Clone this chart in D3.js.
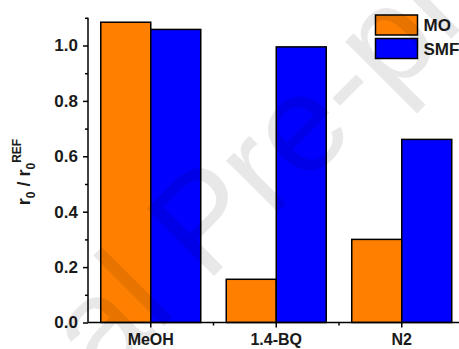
<!DOCTYPE html>
<html>
<head>
<meta charset="utf-8">
<script src="https://cdn.jsdelivr.net/npm/d3@7"></script>
<style>
  html, body { margin: 0; padding: 0; background: #fff; }
  svg { display: block; }
  text { font-family: "Liberation Sans", Arial, sans-serif; font-weight: bold; }
</style>
</head>
<body>
<svg id="chart" width="459" height="349"></svg>
<script>
// Data
const categories = ["MeOH", "1.4-BQ", "N2"];
const seriesNames = ["MO", "SMF"];
const moValues = [1.084, 0.156, 0.300];
const smfValues = [1.058, 0.995, 0.661];
const yTickValues = [0.0, 0.2, 0.4, 0.6, 0.8, 1.0];
const yMinorTickValues = [0.1, 0.3, 0.5, 0.7, 0.9, 1.1];
const seriesColors = ["#FF8000", "#0000FF"];

const rows = categories.map((c, i) => ({ cat: c, values: [moValues[i], smfValues[i]] }));

const svg = d3.select("#chart");
const plotLeft = 88, plotTop = 17.8, plotBottom = 322.5, plotRight = 464.5;

const y = d3.scaleLinear().domain([0, 1.1]).range([plotBottom, plotTop]);
const x = d3.scaleBand().domain(categories).range([plotLeft, plotRight]).paddingInner(0).paddingOuter(0);
const groupWidth = 100;
const xs = d3.scaleBand().domain(seriesNames)
  .range([x.bandwidth() / 2 - groupWidth / 2, x.bandwidth() / 2 + groupWidth / 2]);
const color = d3.scaleOrdinal().domain(seriesNames).range(seriesColors);

// Bars
const groups = svg.append("g").selectAll("g").data(rows).join("g")
  .attr("transform", d => `translate(${x(d.cat)},0)`);
groups.selectAll("rect")
  .data(d => seriesNames.map((s, k) => ({ s, v: d.values[k] })))
  .join("rect")
  .attr("x", d => xs(d.s))
  .attr("width", xs.bandwidth())
  .attr("y", d => y(d.v))
  .attr("height", d => y(0) - y(d.v))
  .attr("fill", d => color(d.s))
  .attr("stroke", "#000")
  .attr("stroke-width", 1.5);

// Y axis
const yAxis = svg.append("g").attr("transform", `translate(${plotLeft},0)`)
  .call(d3.axisLeft(y).tickValues(yTickValues).tickFormat(d3.format(".1f")).tickSize(5).tickPadding(5));
svg.append("g").attr("transform", `translate(${plotLeft},0)`)
  .call(d3.axisLeft(y).tickValues(yMinorTickValues).tickFormat("").tickSize(3))
  .select(".domain").remove();
yAxis.select(".domain").attr("d", `M0,${plotTop}V${plotBottom}`);
yAxis.selectAll(".tick text").attr("font-size", 17);

// X axis
const xAxis = svg.append("g").attr("transform", `translate(0,${plotBottom})`)
  .call(d3.axisBottom(x).tickSize(5).tickPadding(6.6));
xAxis.select(".domain").attr("d", `M${plotLeft},0H${plotRight}`);
xAxis.selectAll(".tick text").attr("font-size", 16);
// minor ticks between categories
svg.append("g").attr("transform", `translate(0,${plotBottom})`)
  .selectAll("line").data(categories.slice(1)).join("line")
  .attr("x1", d => x(d)).attr("x2", d => x(d))
  .attr("y1", 0).attr("y2", 3)
  .attr("stroke", "#000").attr("stroke-width", 1.5);

svg.selectAll(".domain, .tick line").attr("stroke", "#000").attr("stroke-width", 1.5);
svg.selectAll(".tick text").attr("fill", "#1a1a1a")
  .style("font-family", "'Liberation Sans', Arial, sans-serif").style("font-weight", "bold");

// Y axis title
const yTitle = svg.append("text")
  .attr("transform", "translate(30,172) rotate(-90)")
  .attr("text-anchor", "middle")
  .attr("font-size", 18)
  .attr("fill", "#1a1a1a");
yTitle.append("tspan").text("r");
yTitle.append("tspan").attr("font-size", 12).attr("dy", 5).text("0");
yTitle.append("tspan").attr("dy", -5).text(" / r");
yTitle.append("tspan").attr("font-size", 12).attr("dy", 5).text("0");
yTitle.append("tspan").attr("font-size", 12).attr("dy", -14).text("REF");

// Legend
const legend = svg.append("g");
seriesNames.forEach((s, i) => {
  legend.append("rect")
    .attr("x", 375.5).attr("y", 15 + i * 23.5)
    .attr("width", 42).attr("height", 20)
    .attr("fill", color(s)).attr("stroke", "#000").attr("stroke-width", 1.5);
  legend.append("text")
    .attr("x", 423.5).attr("y", 31 + i * 23.5)
    .attr("font-size", 17).attr("fill", "#1a1a1a")
    .text(s);
});

// Watermark, positioned so that "Pre-proof" starts at the anchor point
const wm = svg.append("text")
  .attr("transform", "translate(206,284) rotate(-45)")
  .attr("font-size", 138)
  .style("font-weight", "normal")
  .attr("fill", "#000")
  .attr("fill-opacity", 0.09)
  .text("Journal Pre-proof");
const lead = wm.node().getSubStringLength(0, 8);
wm.attr("x", -lead);
</script>
</body>
</html>
